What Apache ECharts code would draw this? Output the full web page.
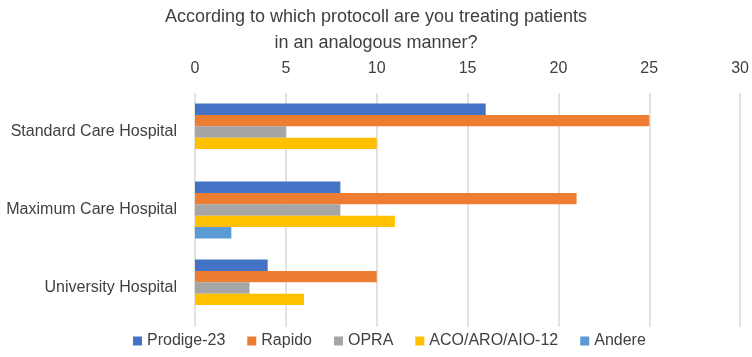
<!DOCTYPE html>
<html><head><meta charset="utf-8">
<script src="https://cdn.jsdelivr.net/npm/echarts@6/dist/echarts.min.js"></script>
<style>html,body{margin:0;padding:0;background:#fff}#c{width:752px;height:357px}</style>
</head><body><div id="c"></div>
<script>
const categories = ['Standard Care Hospital', 'Maximum Care Hospital', 'University Hospital'];
const seriesNames = ['Prodige-23', 'Rapido', 'OPRA', 'ACO/ARO/AIO-12', 'Andere'];
const prodige = [16, 8, 4];
const rapido = [25, 21, 10];
const opra = [5, 8, 3];
const aco = [10, 11, 6];
const andere = [0, 2, 0];
const colors = ['#4472C4', '#ED7D31', '#A5A5A5', '#FFC000', '#5B9BD5'];
const values = [prodige, rapido, opra, aco, andere];
const font = '"Liberation Sans", "Open Sans", sans-serif';
const chart = echarts.init(document.getElementById('c'));
chart.setOption({
  animation: false,
  title: {
    text: 'According to which protocoll are you treating patients\nin an analogous manner?',
    left: 'center', top: -1,
    textStyle: {fontFamily: font, fontSize: 18, fontWeight: 'normal', color: '#404040', lineHeight: 26}
  },
  legend: {
    bottom: 3, left: 128, itemWidth: 9, itemHeight: 9, itemGap: 22, icon: 'rect',
    textStyle: {fontFamily: font, fontSize: 16, color: '#404040'},
    data: seriesNames
  },
  grid: {left: 195, right: 11, top: 93, bottom: 30},
  xAxis: {
    type: 'value', position: 'top', min: 0, max: 30, interval: 5,
    axisLine: {show: false}, axisTick: {show: false},
    axisLabel: {fontFamily: font, fontSize: 16, color: '#404040', margin: 16},
    splitLine: {lineStyle: {color: '#d9d9d9', width: 1.5}}
  },
  yAxis: {
    type: 'category', data: categories, inverse: true,
    axisLine: {show: false}, axisTick: {show: false},
    axisLabel: {fontFamily: font, fontSize: 16, color: '#404040', margin: 18}
  },
  series: seriesNames.map((n, i) => ({
    name: n, type: 'bar', data: values[i],
    barGap: '0%', barCategoryGap: '27%',
    itemStyle: {color: colors[i]}
  }))
});
</script></body></html>
